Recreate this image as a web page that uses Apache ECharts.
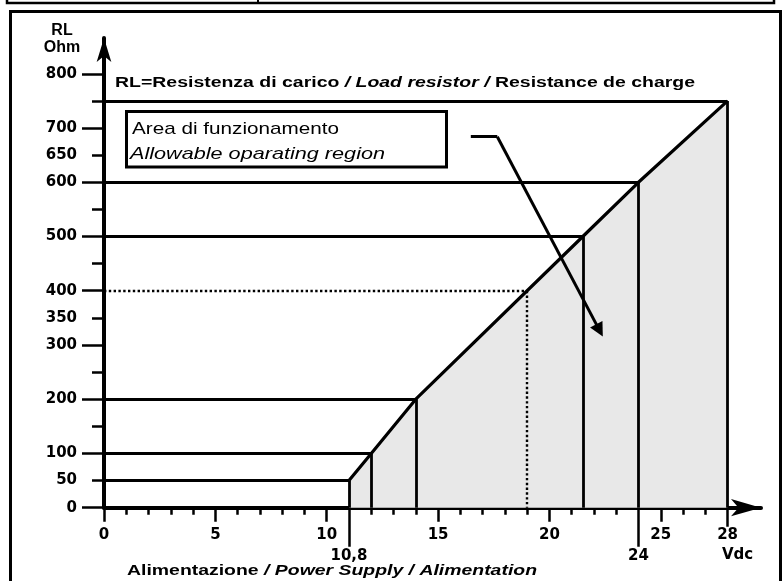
<!DOCTYPE html>
<html>
<head>
<meta charset="utf-8">
<script src="https://cdn.jsdelivr.net/npm/echarts@6/dist/echarts.min.js"></script>
<style>
  html, body { margin: 0; padding: 0; background: #fff; }
  #rl-chart { width: 783px; height: 581px; }
</style>
</head>
<body>
<div id="rl-chart"></div>
<script>
// operating limits: supply voltage (Vdc) -> max load resistor (Ohm)
var supply = [11, 12, 14, 21.5, 24, 28];
var load = [50, 100, 200, 500, 600, 750];
// dotted example point
var example_supply = 19;
var example_load = 400;

// axis ticks and labels
var x_major = [0, 5, 10, 15, 20, 25];
var x_minor = [1, 2, 3, 4, 6, 7, 8, 9, 11, 12, 13, 14, 16, 17, 18, 19, 21, 22, 23, 24, 26, 27];
var x_labels = [0, 5, 10, 15, 20, 25, 28];
var x_marked = [11, 24];
var x_marked_text = ['10,8', '24'];
var y_major = [0, 100, 200, 300, 400, 500, 600, 700, 800];
var y_minor = [50, 150, 250, 350, 450, 550, 650, 750];
var y_labels = [0, 50, 100, 200, 300, 350, 400, 500, 600, 650, 700, 800];

// pointer from the note box into the region
var pointer_path = [[16.47, 684], [17.66, 684], [22.25, 327]];

var FONT = '"Liberation Sans", Arial, sans-serif';
var LABEL_FONT = '"DejaVu Sans", sans-serif';

function text_width(parts) {
  var ctx = document.createElement('canvas').getContext('2d');
  var w = 0;
  parts.forEach(function (p) {
    ctx.font = p[1];
    w += ctx.measureText(p[0]).width;
  });
  return w;
}

function draw_rl_chart() {
  var chart = echarts.init(document.getElementById('rl-chart'), null, { renderer: 'canvas' });

  var label_style = {
    color: '#000',
    fontFamily: LABEL_FONT,
    fontWeight: 'bold',
    fontSize: 15
  };

  var xmax = 29.5, ymax = 866;

  function x_axis(extra) {
    var base = {
      type: 'value', min: 0, max: xmax, position: 'bottom', offset: 0,
      axisLine: { show: false },
      axisTick: { show: false },
      axisLabel: { show: false },
      splitLine: { show: false }
    };
    return Object.assign(base, extra);
  }
  function y_axis(extra) {
    var base = {
      type: 'value', min: 0, max: ymax, position: 'left', offset: 0,
      axisLine: { show: false },
      axisTick: { show: false },
      axisLabel: { show: false },
      splitLine: { show: false }
    };
    return Object.assign(base, extra);
  }

  var level_segments = [];
  for (var i = 0; i < supply.length; i++) {
    level_segments.push({ coords: [[0, load[i]], [supply[i], load[i]]] });
    level_segments.push({ coords: [[supply[i], load[i]], [supply[i], 0]] });
  }

  var b14 = { fontFamily: FONT, fontWeight: 'bold', fontSize: 14, fill: '#000' };
  var bi14 = { fontFamily: FONT, fontWeight: 'bold', fontStyle: 'italic', fontSize: 14, fill: '#000' };
  var top_parts = [['RL=Resistenza di carico ', 'bold 14px ' + FONT], ['/ Load resistor / ', 'italic bold 14px ' + FONT], ['Resistance de charge', 'bold 14px ' + FONT]];
  var bottom_parts = [['Alimentazione ', 'bold 14px ' + FONT], ['/ Power Supply / Alimentation', 'italic bold 14px ' + FONT]];
  var box_line1 = [['Area di funzionamento', '17px ' + FONT]];
  var box_line2 = [['Allowable oparating region', 'italic 17px ' + FONT]];

  var option = {
    animation: false,
    backgroundColor: '#fff',
    grid: { left: 104, right: 22, top: 38, bottom: 73.3, outerBoundsMode: 'none' },
    xAxis: [
      x_axis({
        axisLine: {
          show: true, onZero: false,
          lineStyle: { color: '#000', width: 4 },
          symbol: ['none', 'arrow'], symbolSize: [13, 30], symbolOffset: [0, 0]
        },
        axisTick: { show: true, customValues: x_major, length: 14, lineStyle: { color: '#000', width: 2.5 } },
        axisLabel: Object.assign({ show: true, customValues: x_labels, margin: 20 }, label_style)
      }),
      x_axis({
        axisTick: { show: true, customValues: x_minor, length: 7, lineStyle: { color: '#000', width: 2.5 } }
      }),
      x_axis({
        axisTick: { show: true, customValues: x_marked, length: 39, lineStyle: { color: '#000', width: 2.5 } },
        axisLabel: Object.assign({
          show: true, customValues: x_marked, margin: 41,
          formatter: function (v) { return x_marked_text[x_marked.indexOf(v)]; }
        }, label_style)
      }),
      x_axis({
        axisTick: { show: true, customValues: [28], length: 19, lineStyle: { color: '#000', width: 2.5 } },
        axisLabel: Object.assign({
          show: true, customValues: [28], margin: 40,
          formatter: function () { return '{u|Vdc}'; },
          rich: { u: Object.assign({ padding: [0, 0, 0, 20] }, label_style) }
        }, label_style)
      })
    ],
    yAxis: [
      y_axis({
        axisLine: {
          show: true, onZero: false,
          lineStyle: { color: '#000', width: 4 },
          symbol: ['none', 'arrow'], symbolSize: [11, 24], symbolOffset: [0, 0]
        },
        axisTick: { show: true, customValues: y_major, length: 22, lineStyle: { color: '#000', width: 2.5 } },
        axisLabel: Object.assign({ show: true, customValues: y_labels, margin: 27 }, label_style)
      }),
      y_axis({
        axisTick: { show: true, customValues: y_minor, length: 12, lineStyle: { color: '#000', width: 2.5 } }
      })
    ],
    series: [
      {
        name: 'Allowable region',
        type: 'line',
        data: supply.map(function (s, i) { return [s, load[i]]; }),
        symbol: 'none',
        lineStyle: { color: '#000', width: 3.2 },
        areaStyle: { color: '#e8e8e8', opacity: 1 },
        z: 2
      },
      {
        name: 'Levels',
        type: 'lines',
        coordinateSystem: 'cartesian2d',
        data: level_segments,
        lineStyle: { color: '#000', width: 2.8, opacity: 1 },
        z: 3
      },
      {
        name: 'Example',
        type: 'lines',
        coordinateSystem: 'cartesian2d',
        data: [
          { coords: [[0, example_load], [example_supply, example_load]] },
          { coords: [[example_supply, example_load], [example_supply, 0]] }
        ],
        lineStyle: { color: '#000', width: 2.4, type: [2.4, 2.4], opacity: 1 },
        z: 3
      },
      {
        name: 'Pointer',
        type: 'lines',
        coordinateSystem: 'cartesian2d',
        data: [{ coords: [pointer_path[0], pointer_path[1]] }],
        lineStyle: { color: '#000', width: 3, opacity: 1 },
        z: 4
      },
      {
        name: 'Pointer head',
        type: 'lines',
        coordinateSystem: 'cartesian2d',
        data: [{ coords: [pointer_path[1], pointer_path[2]] }],
        symbol: ['none', 'triangle'],
        symbolSize: 14,
        lineStyle: { color: '#000', width: 3, opacity: 1 },
        z: 4
      }
    ],
    graphic: [
      // frame round the figure
      { type: 'rect', shape: { x: 10.5, y: 11.5, width: 770, height: 600 }, style: { fill: 'none', stroke: '#000', lineWidth: 3 }, silent: true },
      { type: 'polyline', shape: { points: [[7, 0], [7, 3], [774, 3], [774, 0]] }, style: { fill: 'none', stroke: '#000', lineWidth: 2.5 }, silent: true },
      { type: 'line', shape: { x1: 258, y1: 0, x2: 258, y2: 3 }, style: { stroke: '#000', lineWidth: 2 }, silent: true },
      // axis names
      {
        type: 'text', x: 62, y: 22,
        style: { text: 'RL\nOhm', fontFamily: FONT, fontWeight: 'bold', fontSize: 16, lineHeight: 17, align: 'center', verticalAlign: 'top', fill: '#000' }
      },
      {
        type: 'text', x: 115, y: 83, scaleX: 580 / text_width(top_parts),
        style: {
          text: '{b|RL=Resistenza di carico }{i|/ Load resistor / }{b|Resistance de charge}',
          rich: { b: b14, i: bi14 }, verticalAlign: 'middle', fill: '#000'
        }
      },
      {
        type: 'text', x: 127, y: 571, scaleX: 410 / text_width(bottom_parts),
        style: {
          text: '{b|Alimentazione }{i|/ Power Supply / Alimentation}',
          rich: { b: b14, i: bi14 }, verticalAlign: 'middle', fill: '#000'
        }
      },
      // note box
      { type: 'rect', shape: { x: 126.5, y: 111.5, width: 320, height: 55.5 }, style: { fill: '#fff', stroke: '#000', lineWidth: 3 }, z: 10 },
      {
        type: 'text', x: 132, y: 129, scaleX: 207 / text_width(box_line1), z: 11,
        style: { text: box_line1[0][0], fontFamily: FONT, fontSize: 17, verticalAlign: 'middle', fill: '#000' }
      },
      {
        type: 'text', x: 130, y: 154, scaleX: 255 / text_width(box_line2), z: 11,
        style: { text: box_line2[0][0], fontFamily: FONT, fontStyle: 'italic', fontSize: 17, verticalAlign: 'middle', fill: '#000' }
      }
    ]
  };

  chart.setOption(option);
  window.addEventListener('resize', function () {
    chart.resize();
  });
}

draw_rl_chart();
</script>
</body>
</html>
